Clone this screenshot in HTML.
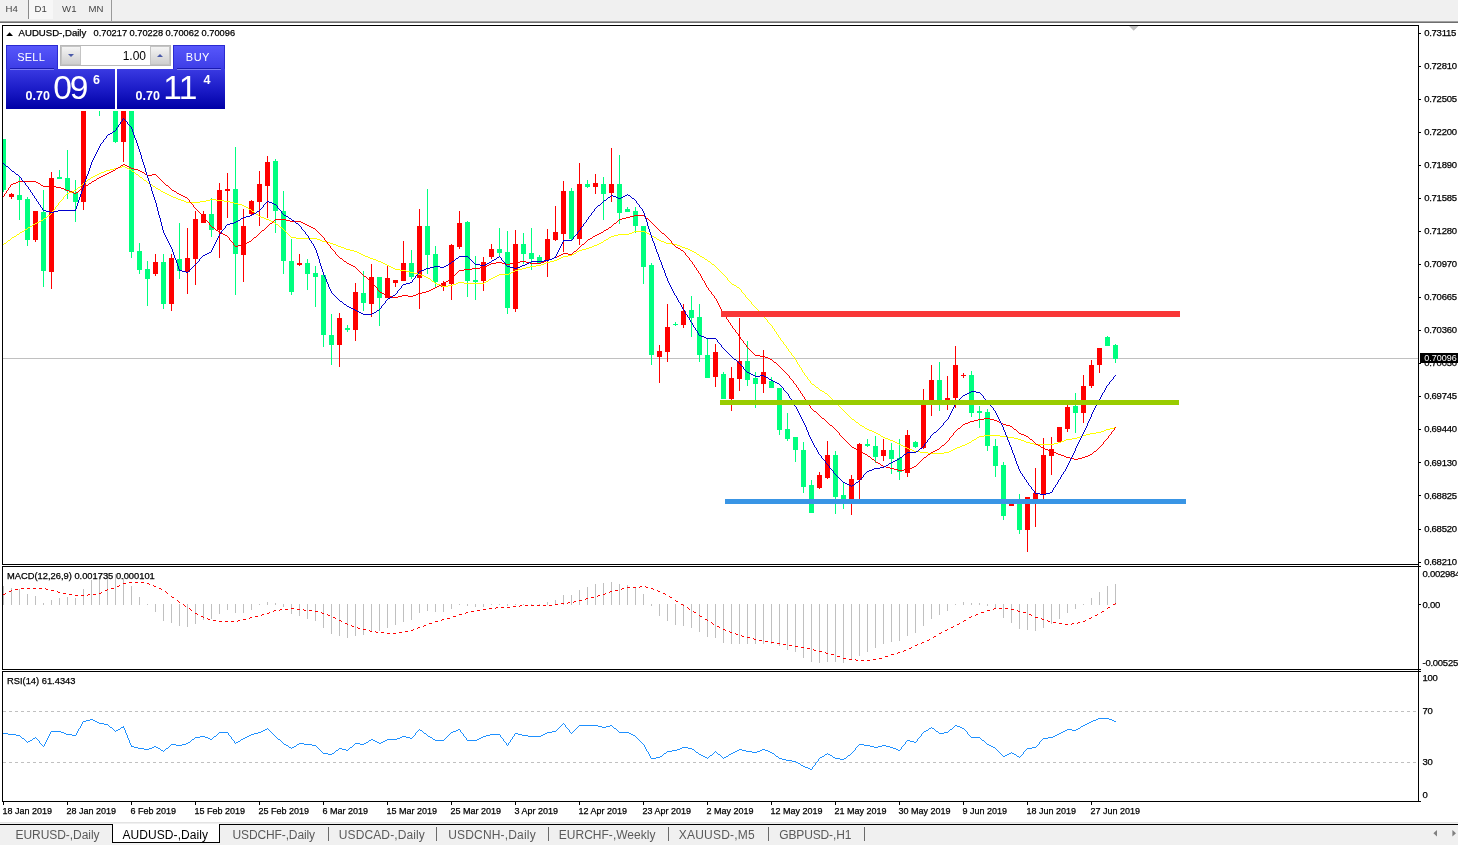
<!DOCTYPE html>
<html><head><meta charset="utf-8"><title>AUDUSD-,Daily</title>
<style>
html,body{margin:0;padding:0}
body{width:1458px;height:845px;overflow:hidden;background:#f0f0f0;position:relative;font-family:"Liberation Sans",sans-serif;}
#win{position:absolute;left:0px;top:23px;width:1458px;height:799px;background:#fff}
svg{position:absolute;left:0;top:0}
.tbtn{position:absolute;top:3.3px;font-size:9.6px;color:#444;line-height:11px}
.ax,.ax2{position:absolute;font-size:9.5px;letter-spacing:-0.26px;line-height:12px;color:#000;white-space:nowrap}
.ax,.ax2,.dt,.ind,#hdr{-webkit-text-stroke:0.25px #000}
.ax{left:1424.2px}
.ax2{left:1422.5px}
.dt{position:absolute;top:805px;font-size:9px;line-height:12px;color:#000;white-space:nowrap}
.tab{position:absolute;top:828px;font-size:12px;line-height:14px;color:#5a5a5a;white-space:nowrap}
.tab.act{color:#000}
.sep{position:absolute;top:827px;width:1px;height:14px;background:#6a6a6a}
#hdr{position:absolute;left:18.6px;top:27.2px;font-size:9.6px;line-height:12px;color:#000;white-space:pre}
#plab{position:absolute;left:1420px;top:353px;width:38px;height:10px;background:#000}
#plab span{position:absolute;left:4.2px;top:-1px;font-size:9px;line-height:12px;color:#fff}
.ind{position:absolute;left:7px;font-size:9.34px;line-height:12px;color:#000;white-space:pre}
#oct{position:absolute;left:6px;top:45px;width:219px;height:64px}
#oct div{position:absolute}
.big{color:#fff;white-space:nowrap}
</style></head><body>
<div id="win"></div>
<div style="position:absolute;left:0;top:21px;width:1458px;height:1px;background:#a0a0a0"></div>
<div style="position:absolute;left:0;top:22px;width:1458px;height:1px;background:#6e6e6e"></div>
<div style="position:absolute;left:28px;top:0;width:1px;height:19px;background:#8a8a8a"></div>
<div style="position:absolute;left:29px;top:0;width:24px;height:19px;background:#f7f7f7"></div>
<div style="position:absolute;left:111px;top:0;width:1px;height:21px;background:#9a9a9a"></div>
<div class="tbtn" style="left:5.6px">H4</div>
<div class="tbtn" style="left:34.6px">D1</div>
<div class="tbtn" style="left:62.1px">W1</div>
<div class="tbtn" style="left:88.5px">MN</div>

<svg width="1458" height="845" viewBox="0 0 1458 845" shape-rendering="crispEdges">
<defs><clipPath id="cm"><rect x="3" y="26" width="1415" height="538"/></clipPath></defs>
<g clip-path="url(#cm)">
<rect x="3" y="358" width="1415" height="1" fill="#c0c0c0"/>
<rect x="3" y="139" width="1" height="53" fill="#00ff7f"/><rect x="1" y="139" width="5" height="51" fill="#00ff7f"/><rect x="11" y="193" width="1" height="6" fill="#ff0000"/><rect x="9" y="194" width="5" height="3" fill="#ff0000"/><rect x="19" y="176" width="1" height="44" fill="#00ff7f"/><rect x="17" y="195" width="5" height="5" fill="#00ff7f"/><rect x="27" y="197" width="1" height="49" fill="#00ff7f"/><rect x="25" y="199" width="5" height="41" fill="#00ff7f"/><rect x="35" y="211" width="1" height="31" fill="#ff0000"/><rect x="33" y="211" width="5" height="29" fill="#ff0000"/><rect x="43" y="190" width="1" height="97" fill="#00ff7f"/><rect x="41" y="212" width="5" height="59" fill="#00ff7f"/><rect x="51" y="172" width="1" height="117" fill="#ff0000"/><rect x="49" y="178" width="5" height="94" fill="#ff0000"/><rect x="59" y="170" width="1" height="9" fill="#00ff7f"/><rect x="57" y="177" width="5" height="2" fill="#00ff7f"/><rect x="67" y="150" width="1" height="49" fill="#00ff7f"/><rect x="65" y="178" width="5" height="13" fill="#00ff7f"/><rect x="75" y="180" width="1" height="42" fill="#00ff7f"/><rect x="73" y="193" width="5" height="9" fill="#00ff7f"/><rect x="83" y="75" width="1" height="135" fill="#ff0000"/><rect x="81" y="80" width="5" height="122" fill="#ff0000"/><rect x="99" y="80" width="1" height="36" fill="#00ff7f"/><rect x="97" y="85" width="5" height="20" fill="#00ff7f"/><rect x="115" y="85" width="1" height="58" fill="#00ff7f"/><rect x="113" y="90" width="5" height="52" fill="#00ff7f"/><rect x="123" y="90" width="1" height="72" fill="#ff0000"/><rect x="121" y="95" width="5" height="47" fill="#ff0000"/><rect x="131" y="95" width="1" height="163" fill="#00ff7f"/><rect x="129" y="100" width="5" height="152" fill="#00ff7f"/><rect x="139" y="243" width="1" height="31" fill="#00ff7f"/><rect x="137" y="251" width="5" height="19" fill="#00ff7f"/><rect x="147" y="261" width="1" height="45" fill="#00ff7f"/><rect x="145" y="269" width="5" height="10" fill="#00ff7f"/><rect x="155" y="254" width="1" height="22" fill="#ff0000"/><rect x="153" y="262" width="5" height="12" fill="#ff0000"/><rect x="163" y="254" width="1" height="55" fill="#00ff7f"/><rect x="161" y="262" width="5" height="42" fill="#00ff7f"/><rect x="171" y="254" width="1" height="57" fill="#ff0000"/><rect x="169" y="258" width="5" height="46" fill="#ff0000"/><rect x="179" y="223" width="1" height="56" fill="#00ff7f"/><rect x="177" y="259" width="5" height="12" fill="#00ff7f"/><rect x="187" y="228" width="1" height="66" fill="#ff0000"/><rect x="185" y="258" width="5" height="14" fill="#ff0000"/><rect x="195" y="211" width="1" height="74" fill="#ff0000"/><rect x="193" y="219" width="5" height="40" fill="#ff0000"/><rect x="203" y="211" width="1" height="12" fill="#ff0000"/><rect x="201" y="214" width="5" height="9" fill="#ff0000"/><rect x="211" y="198" width="1" height="39" fill="#00ff7f"/><rect x="209" y="214" width="5" height="16" fill="#00ff7f"/><rect x="219" y="183" width="1" height="75" fill="#ff0000"/><rect x="217" y="190" width="5" height="40" fill="#ff0000"/><rect x="227" y="173" width="1" height="45" fill="#ff0000"/><rect x="225" y="189" width="5" height="2" fill="#ff0000"/><rect x="235" y="147" width="1" height="148" fill="#00ff7f"/><rect x="233" y="189" width="5" height="65" fill="#00ff7f"/><rect x="243" y="209" width="1" height="73" fill="#ff0000"/><rect x="241" y="226" width="5" height="29" fill="#ff0000"/><rect x="251" y="200" width="1" height="15" fill="#ff0000"/><rect x="249" y="201" width="5" height="13" fill="#ff0000"/><rect x="259" y="171" width="1" height="55" fill="#ff0000"/><rect x="257" y="184" width="5" height="18" fill="#ff0000"/><rect x="267" y="156" width="1" height="62" fill="#ff0000"/><rect x="265" y="162" width="5" height="24" fill="#ff0000"/><rect x="275" y="159" width="1" height="74" fill="#00ff7f"/><rect x="273" y="161" width="5" height="50" fill="#00ff7f"/><rect x="283" y="191" width="1" height="83" fill="#00ff7f"/><rect x="281" y="211" width="5" height="50" fill="#00ff7f"/><rect x="291" y="239" width="1" height="56" fill="#00ff7f"/><rect x="289" y="261" width="5" height="31" fill="#00ff7f"/><rect x="299" y="254" width="1" height="12" fill="#ff0000"/><rect x="297" y="263" width="5" height="2" fill="#ff0000"/><rect x="307" y="259" width="1" height="31" fill="#00ff7f"/><rect x="305" y="263" width="5" height="11" fill="#00ff7f"/><rect x="315" y="266" width="1" height="41" fill="#00ff7f"/><rect x="313" y="273" width="5" height="4" fill="#00ff7f"/><rect x="323" y="275" width="1" height="72" fill="#00ff7f"/><rect x="321" y="275" width="5" height="60" fill="#00ff7f"/><rect x="331" y="314" width="1" height="51" fill="#00ff7f"/><rect x="329" y="335" width="5" height="10" fill="#00ff7f"/><rect x="339" y="313" width="1" height="54" fill="#ff0000"/><rect x="337" y="318" width="5" height="27" fill="#ff0000"/><rect x="347" y="325" width="1" height="7" fill="#00ff7f"/><rect x="345" y="328" width="5" height="2" fill="#00ff7f"/><rect x="355" y="283" width="1" height="58" fill="#ff0000"/><rect x="353" y="292" width="5" height="38" fill="#ff0000"/><rect x="363" y="271" width="1" height="40" fill="#00ff7f"/><rect x="361" y="293" width="5" height="10" fill="#00ff7f"/><rect x="371" y="264" width="1" height="53" fill="#ff0000"/><rect x="369" y="277" width="5" height="27" fill="#ff0000"/><rect x="379" y="277" width="1" height="49" fill="#00ff7f"/><rect x="377" y="277" width="5" height="21" fill="#00ff7f"/><rect x="387" y="266" width="1" height="32" fill="#ff0000"/><rect x="385" y="278" width="5" height="20" fill="#ff0000"/><rect x="395" y="280" width="1" height="7" fill="#ff0000"/><rect x="393" y="280" width="5" height="3" fill="#ff0000"/><rect x="403" y="241" width="1" height="40" fill="#ff0000"/><rect x="401" y="263" width="5" height="18" fill="#ff0000"/><rect x="411" y="250" width="1" height="29" fill="#00ff7f"/><rect x="409" y="263" width="5" height="14" fill="#00ff7f"/><rect x="419" y="209" width="1" height="100" fill="#ff0000"/><rect x="417" y="226" width="5" height="52" fill="#ff0000"/><rect x="427" y="189" width="1" height="85" fill="#00ff7f"/><rect x="425" y="226" width="5" height="29" fill="#00ff7f"/><rect x="435" y="246" width="1" height="41" fill="#00ff7f"/><rect x="433" y="254" width="5" height="28" fill="#00ff7f"/><rect x="443" y="281" width="1" height="10" fill="#ff0000"/><rect x="441" y="283" width="5" height="4" fill="#ff0000"/><rect x="451" y="244" width="1" height="56" fill="#ff0000"/><rect x="449" y="245" width="5" height="39" fill="#ff0000"/><rect x="459" y="211" width="1" height="38" fill="#ff0000"/><rect x="457" y="223" width="5" height="24" fill="#ff0000"/><rect x="467" y="221" width="1" height="76" fill="#00ff7f"/><rect x="465" y="222" width="5" height="59" fill="#00ff7f"/><rect x="475" y="256" width="1" height="44" fill="#00ff7f"/><rect x="473" y="280" width="5" height="2" fill="#00ff7f"/><rect x="483" y="257" width="1" height="34" fill="#ff0000"/><rect x="481" y="262" width="5" height="19" fill="#ff0000"/><rect x="491" y="244" width="1" height="15" fill="#ff0000"/><rect x="489" y="249" width="5" height="8" fill="#ff0000"/><rect x="499" y="228" width="1" height="29" fill="#00ff7f"/><rect x="497" y="249" width="5" height="4" fill="#00ff7f"/><rect x="507" y="231" width="1" height="83" fill="#00ff7f"/><rect x="505" y="252" width="5" height="56" fill="#00ff7f"/><rect x="515" y="230" width="1" height="82" fill="#ff0000"/><rect x="513" y="244" width="5" height="65" fill="#ff0000"/><rect x="523" y="233" width="1" height="31" fill="#00ff7f"/><rect x="521" y="244" width="5" height="10" fill="#00ff7f"/><rect x="531" y="228" width="1" height="42" fill="#00ff7f"/><rect x="529" y="253" width="5" height="6" fill="#00ff7f"/><rect x="539" y="255" width="1" height="9" fill="#00ff7f"/><rect x="537" y="257" width="5" height="6" fill="#00ff7f"/><rect x="547" y="229" width="1" height="48" fill="#ff0000"/><rect x="545" y="239" width="5" height="21" fill="#ff0000"/><rect x="555" y="206" width="1" height="35" fill="#ff0000"/><rect x="553" y="232" width="5" height="8" fill="#ff0000"/><rect x="563" y="181" width="1" height="71" fill="#ff0000"/><rect x="561" y="191" width="5" height="43" fill="#ff0000"/><rect x="571" y="188" width="1" height="53" fill="#00ff7f"/><rect x="569" y="191" width="5" height="48" fill="#00ff7f"/><rect x="579" y="163" width="1" height="82" fill="#ff0000"/><rect x="577" y="184" width="5" height="55" fill="#ff0000"/><rect x="587" y="180" width="1" height="8" fill="#00ff7f"/><rect x="585" y="184" width="5" height="3" fill="#00ff7f"/><rect x="595" y="174" width="1" height="20" fill="#ff0000"/><rect x="593" y="183" width="5" height="4" fill="#ff0000"/><rect x="603" y="177" width="1" height="43" fill="#00ff7f"/><rect x="601" y="184" width="5" height="10" fill="#00ff7f"/><rect x="611" y="148" width="1" height="54" fill="#ff0000"/><rect x="609" y="184" width="5" height="9" fill="#ff0000"/><rect x="619" y="155" width="1" height="69" fill="#00ff7f"/><rect x="617" y="184" width="5" height="29" fill="#00ff7f"/><rect x="627" y="207" width="1" height="5" fill="#00ff7f"/><rect x="625" y="209" width="5" height="3" fill="#00ff7f"/><rect x="635" y="207" width="1" height="26" fill="#00ff7f"/><rect x="633" y="211" width="5" height="15" fill="#00ff7f"/><rect x="643" y="226" width="1" height="58" fill="#00ff7f"/><rect x="641" y="226" width="5" height="41" fill="#00ff7f"/><rect x="651" y="263" width="1" height="102" fill="#00ff7f"/><rect x="649" y="265" width="5" height="90" fill="#00ff7f"/><rect x="659" y="345" width="1" height="38" fill="#ff0000"/><rect x="657" y="351" width="5" height="6" fill="#ff0000"/><rect x="667" y="304" width="1" height="58" fill="#ff0000"/><rect x="665" y="327" width="5" height="25" fill="#ff0000"/><rect x="675" y="322" width="1" height="4" fill="#00ff7f"/><rect x="673" y="324" width="5" height="1" fill="#00ff7f"/><rect x="683" y="304" width="1" height="24" fill="#ff0000"/><rect x="681" y="311" width="5" height="14" fill="#ff0000"/><rect x="691" y="296" width="1" height="41" fill="#00ff7f"/><rect x="689" y="310" width="5" height="8" fill="#00ff7f"/><rect x="699" y="304" width="1" height="58" fill="#00ff7f"/><rect x="697" y="317" width="5" height="38" fill="#00ff7f"/><rect x="707" y="338" width="1" height="40" fill="#00ff7f"/><rect x="705" y="355" width="5" height="23" fill="#00ff7f"/><rect x="715" y="344" width="1" height="43" fill="#ff0000"/><rect x="713" y="352" width="5" height="25" fill="#ff0000"/><rect x="723" y="372" width="1" height="27" fill="#00ff7f"/><rect x="721" y="374" width="5" height="25" fill="#00ff7f"/><rect x="731" y="367" width="1" height="44" fill="#ff0000"/><rect x="729" y="378" width="5" height="21" fill="#ff0000"/><rect x="739" y="318" width="1" height="73" fill="#ff0000"/><rect x="737" y="361" width="5" height="18" fill="#ff0000"/><rect x="747" y="341" width="1" height="45" fill="#00ff7f"/><rect x="745" y="361" width="5" height="19" fill="#00ff7f"/><rect x="755" y="372" width="1" height="36" fill="#00ff7f"/><rect x="753" y="378" width="5" height="6" fill="#00ff7f"/><rect x="763" y="350" width="1" height="43" fill="#ff0000"/><rect x="761" y="372" width="5" height="12" fill="#ff0000"/><rect x="771" y="377" width="1" height="11" fill="#00ff7f"/><rect x="769" y="381" width="5" height="7" fill="#00ff7f"/><rect x="779" y="388" width="1" height="47" fill="#00ff7f"/><rect x="777" y="388" width="5" height="42" fill="#00ff7f"/><rect x="787" y="413" width="1" height="28" fill="#00ff7f"/><rect x="785" y="429" width="5" height="10" fill="#00ff7f"/><rect x="795" y="437" width="1" height="25" fill="#00ff7f"/><rect x="793" y="437" width="5" height="13" fill="#00ff7f"/><rect x="803" y="442" width="1" height="51" fill="#00ff7f"/><rect x="801" y="450" width="5" height="37" fill="#00ff7f"/><rect x="811" y="480" width="1" height="33" fill="#00ff7f"/><rect x="809" y="485" width="5" height="28" fill="#00ff7f"/><rect x="819" y="472" width="1" height="17" fill="#ff0000"/><rect x="817" y="475" width="5" height="13" fill="#ff0000"/><rect x="827" y="441" width="1" height="38" fill="#ff0000"/><rect x="825" y="455" width="5" height="23" fill="#ff0000"/><rect x="835" y="451" width="1" height="63" fill="#00ff7f"/><rect x="833" y="455" width="5" height="42" fill="#00ff7f"/><rect x="843" y="483" width="1" height="26" fill="#00ff7f"/><rect x="841" y="495" width="5" height="4" fill="#00ff7f"/><rect x="851" y="475" width="1" height="40" fill="#ff0000"/><rect x="849" y="479" width="5" height="20" fill="#ff0000"/><rect x="859" y="443" width="1" height="56" fill="#ff0000"/><rect x="857" y="444" width="5" height="36" fill="#ff0000"/><rect x="867" y="439" width="1" height="8" fill="#00ff7f"/><rect x="865" y="444" width="5" height="2" fill="#00ff7f"/><rect x="875" y="436" width="1" height="27" fill="#00ff7f"/><rect x="873" y="446" width="5" height="11" fill="#00ff7f"/><rect x="883" y="439" width="1" height="22" fill="#ff0000"/><rect x="881" y="450" width="5" height="6" fill="#ff0000"/><rect x="891" y="443" width="1" height="31" fill="#00ff7f"/><rect x="889" y="450" width="5" height="9" fill="#00ff7f"/><rect x="899" y="439" width="1" height="41" fill="#00ff7f"/><rect x="897" y="458" width="5" height="14" fill="#00ff7f"/><rect x="907" y="430" width="1" height="47" fill="#ff0000"/><rect x="905" y="435" width="5" height="38" fill="#ff0000"/><rect x="915" y="441" width="1" height="7" fill="#00ff7f"/><rect x="913" y="442" width="5" height="5" fill="#00ff7f"/><rect x="923" y="389" width="1" height="60" fill="#ff0000"/><rect x="921" y="405" width="5" height="43" fill="#ff0000"/><rect x="931" y="365" width="1" height="51" fill="#ff0000"/><rect x="929" y="380" width="5" height="20" fill="#ff0000"/><rect x="939" y="362" width="1" height="49" fill="#00ff7f"/><rect x="937" y="380" width="5" height="20" fill="#00ff7f"/><rect x="947" y="376" width="1" height="34" fill="#ff0000"/><rect x="945" y="398" width="5" height="2" fill="#ff0000"/><rect x="955" y="346" width="1" height="62" fill="#ff0000"/><rect x="953" y="365" width="5" height="33" fill="#ff0000"/><rect x="963" y="373" width="1" height="5" fill="#ff0000"/><rect x="961" y="375" width="5" height="1" fill="#ff0000"/><rect x="971" y="371" width="1" height="46" fill="#00ff7f"/><rect x="969" y="375" width="5" height="38" fill="#00ff7f"/><rect x="979" y="406" width="1" height="22" fill="#00ff7f"/><rect x="977" y="411" width="5" height="2" fill="#00ff7f"/><rect x="987" y="409" width="1" height="42" fill="#00ff7f"/><rect x="985" y="412" width="5" height="34" fill="#00ff7f"/><rect x="995" y="439" width="1" height="38" fill="#00ff7f"/><rect x="993" y="446" width="5" height="20" fill="#00ff7f"/><rect x="1003" y="462" width="1" height="58" fill="#00ff7f"/><rect x="1001" y="465" width="5" height="51" fill="#00ff7f"/><rect x="1011" y="504" width="1" height="2" fill="#ff0000"/><rect x="1009" y="504" width="5" height="2" fill="#ff0000"/><rect x="1019" y="494" width="1" height="40" fill="#00ff7f"/><rect x="1017" y="500" width="5" height="30" fill="#00ff7f"/><rect x="1027" y="497" width="1" height="55" fill="#ff0000"/><rect x="1025" y="497" width="5" height="33" fill="#ff0000"/><rect x="1035" y="468" width="1" height="59" fill="#ff0000"/><rect x="1033" y="493" width="5" height="6" fill="#ff0000"/><rect x="1043" y="438" width="1" height="61" fill="#ff0000"/><rect x="1041" y="455" width="5" height="40" fill="#ff0000"/><rect x="1051" y="437" width="1" height="38" fill="#ff0000"/><rect x="1049" y="449" width="5" height="7" fill="#ff0000"/><rect x="1059" y="427" width="1" height="15" fill="#ff0000"/><rect x="1057" y="427" width="5" height="15" fill="#ff0000"/><rect x="1067" y="405" width="1" height="27" fill="#ff0000"/><rect x="1065" y="407" width="5" height="22" fill="#ff0000"/><rect x="1075" y="393" width="1" height="40" fill="#00ff7f"/><rect x="1073" y="406" width="5" height="7" fill="#00ff7f"/><rect x="1083" y="375" width="1" height="48" fill="#ff0000"/><rect x="1081" y="386" width="5" height="27" fill="#ff0000"/><rect x="1091" y="360" width="1" height="28" fill="#ff0000"/><rect x="1089" y="365" width="5" height="21" fill="#ff0000"/><rect x="1099" y="348" width="1" height="25" fill="#ff0000"/><rect x="1097" y="348" width="5" height="17" fill="#ff0000"/><rect x="1107" y="336" width="1" height="10" fill="#00ff7f"/><rect x="1105" y="337" width="5" height="9" fill="#00ff7f"/><rect x="1115" y="344" width="1" height="19" fill="#00ff7f"/><rect x="1113" y="345" width="5" height="14" fill="#00ff7f"/>
<path d="M122 166.5h3M118 167.5h4M125 167.5h2M114 168.5h4M127 168.5h2M110 169.5h4M129 169.5h2M106 170.5h4M131 170.5h1M104 171.5h2M132 171.5h2M101 172.5h3M134 172.5h1M99 173.5h2M135 173.5h1M97 174.5h2M136 174.5h2M95 175.5h2M138 175.5h1M93 176.5h2M139 176.5h1M91 177.5h2M140 177.5h2M90 178.5h1M142 178.5h1M88 179.5h2M143 179.5h1M87 180.5h1M144 180.5h2M86 181.5h1M146 181.5h1M84 182.5h2M147 182.5h1M83 183.5h1M148 183.5h2M82 184.5h1M150 184.5h2M81 185.5h1M152 185.5h1M80 186.5h1M153 186.5h2M78 187.5h2M155 187.5h1M77 188.5h1M156 188.5h2M76 189.5h1M158 189.5h2M74 190.5h2M160 190.5h1M72 191.5h2M161 191.5h2M69 192.5h3M163 192.5h2M67 193.5h2M165 193.5h2M66 194.5h1M167 194.5h2M65 195.5h1M169 195.5h2M64 196.5h1M171 196.5h2M63.5 197v2M173 197.5h3M176 198.5h2M62 199.5h1M178 199.5h3M210 199.5h6M61 200.5h1M181 200.5h3M206 200.5h4M216 200.5h8M60 201.5h1M184 201.5h2M200 201.5h6M224 201.5h6M59 202.5h1M186 202.5h14M230 202.5h4M58.5 203v2M234 203.5h4M238 204.5h4M57 205.5h1M242 205.5h2M56 206.5h1M244 206.5h2M55.5 207v2M246 207.5h2M248 208.5h1M54 209.5h1M249 209.5h2M53 210.5h1M251 210.5h1M52.5 211v2M252 211.5h2M254 212.5h1M51 213.5h1M255 213.5h1M50 214.5h1M256 214.5h2M48 215.5h2M258 215.5h1M47 216.5h1M259 216.5h2M46 217.5h1M261 217.5h3M44 218.5h2M264 218.5h2M43 219.5h1M266 219.5h3M41 220.5h2M269 220.5h2M39 221.5h2M271 221.5h2M37 222.5h2M273 222.5h2M35 223.5h2M275 223.5h1M33 224.5h2M276 224.5h2M32 225.5h1M278 225.5h1M30 226.5h2M279 226.5h1M28 227.5h2M280 227.5h2M27 228.5h1M282 228.5h1M25 229.5h2M283 229.5h1M24 230.5h1M284 230.5h1M22 231.5h2M285 231.5h1M634 231.5h11M20 232.5h2M286 232.5h1M632 232.5h2M645 232.5h2M19 233.5h1M287 233.5h1M629 233.5h3M647 233.5h2M17 234.5h2M288 234.5h1M618 234.5h11M649 234.5h2M16 235.5h1M289 235.5h1M614 235.5h4M651 235.5h1M14 236.5h2M290 236.5h1M611 236.5h3M652 236.5h2M12 237.5h2M291 237.5h5M609 237.5h2M654 237.5h2M11 238.5h1M296 238.5h21M608 238.5h1M656 238.5h1M10 239.5h1M317 239.5h3M606 239.5h2M657 239.5h2M8 240.5h2M320 240.5h2M604 240.5h2M659 240.5h2M7 241.5h1M322 241.5h4M603 241.5h1M661 241.5h3M6 242.5h1M326 242.5h4M601 242.5h2M664 242.5h2M4 243.5h2M330 243.5h3M599 243.5h2M666 243.5h6M3 244.5h1M333 244.5h3M597 244.5h2M672 244.5h5M336 245.5h2M594 245.5h3M677 245.5h3M338 246.5h3M592 246.5h2M680 246.5h2M341 247.5h3M589 247.5h3M682 247.5h3M344 248.5h2M586 248.5h3M685 248.5h3M346 249.5h4M582 249.5h4M688 249.5h2M350 250.5h4M579 250.5h3M690 250.5h2M354 251.5h3M577 251.5h2M692 251.5h2M357 252.5h2M576 252.5h1M694 252.5h2M359 253.5h2M574 253.5h2M696 253.5h1M361 254.5h2M572 254.5h2M697 254.5h2M363 255.5h2M568 255.5h4M699 255.5h1M365 256.5h3M563 256.5h5M700 256.5h2M368 257.5h2M561 257.5h2M702 257.5h2M370 258.5h3M559 258.5h2M704 258.5h1M373 259.5h3M557 259.5h2M705 259.5h2M376 260.5h2M554 260.5h3M707 260.5h1M378 261.5h3M550 261.5h4M708 261.5h2M381 262.5h2M546 262.5h4M710 262.5h1M383 263.5h2M544 263.5h2M711 263.5h1M385 264.5h2M541 264.5h3M712 264.5h2M387 265.5h2M536 265.5h5M714 265.5h1M389 266.5h2M530 266.5h6M715 266.5h1M391 267.5h2M526 267.5h4M716 267.5h1M393 268.5h2M522 268.5h4M717 268.5h1M395 269.5h5M518 269.5h4M718 269.5h1M400 270.5h6M515 270.5h3M719 270.5h1M406 271.5h4M513 271.5h2M720 271.5h1M410 272.5h4M511 272.5h2M721 272.5h1M414 273.5h4M509 273.5h2M722 273.5h1M418 274.5h3M499 274.5h10M723 274.5h1M421 275.5h3M497 275.5h2M724 275.5h1M424 276.5h2M495 276.5h2M725 276.5h1M426 277.5h2M493 277.5h2M726 277.5h1M428 278.5h2M491 278.5h2M727.5 278v2M430 279.5h1M489 279.5h2M431 280.5h1M488 280.5h1M728 280.5h1M432 281.5h2M486 281.5h2M729 281.5h1M434 282.5h1M458 282.5h6M484 282.5h2M730 282.5h1M435 283.5h2M456 283.5h2M464 283.5h20M731 283.5h1M437 284.5h3M453 284.5h3M732 284.5h2M440 285.5h2M448 285.5h5M734 285.5h2M442 286.5h6M736 286.5h1M737 287.5h2M739 288.5h1M740 289.5h1M741.5 290v2M742 292.5h1M743 293.5h1M744 294.5h1M745.5 295v2M746 297.5h1M747 298.5h1M748 299.5h1M749 300.5h1M750 301.5h1M751.5 302v2M752 304.5h1M753 305.5h1M754 306.5h1M755 307.5h1M756 308.5h1M757 309.5h1M758 310.5h1M759.5 311v2M760 313.5h1M761 314.5h1M762 315.5h1M763 316.5h1M764 317.5h1M765 318.5h1M766 319.5h1M767.5 320v2M768 322.5h1M769 323.5h1M770 324.5h1M771 325.5h1M772.5 326v2M773 328.5h1M774.5 329v2M775 331.5h1M776.5 332v2M777 334.5h1M778.5 335v2M779 337.5h1M780.5 338v2M781 340.5h1M782 341.5h1M783.5 342v2M784 344.5h1M785 345.5h1M786.5 346v2M787 348.5h1M788.5 349v2M789 351.5h1M790 352.5h1M791.5 353v2M792 355.5h1M793 356.5h1M794.5 357v2M795 359.5h1M796.5 360v2M797.5 362v2M798 364.5h1M799.5 365v2M800 367.5h1M801.5 368v2M802.5 370v2M803 372.5h1M804.5 373v2M805 375.5h1M806 376.5h1M807.5 377v2M808 379.5h1M809 380.5h1M810.5 381v2M811 383.5h1M812 384.5h2M814 385.5h1M815 386.5h1M816 387.5h2M818 388.5h1M819 389.5h1M820 390.5h2M822 391.5h2M824 392.5h1M825 393.5h2M827 394.5h1M828 395.5h1M829 396.5h1M830 397.5h1M831 398.5h1M832 399.5h1M833 400.5h1M834 401.5h1M835 402.5h1M836 403.5h1M837 404.5h1M838 405.5h1M839 406.5h1M840 407.5h1M841 408.5h1M842 409.5h1M843 410.5h1M844 411.5h1M845 412.5h1M846 413.5h1M847 414.5h1M848 415.5h1M849 416.5h1M850 417.5h1M851 418.5h1M852 419.5h2M854 420.5h1M855 421.5h1M856 422.5h2M858 423.5h1M859 424.5h1M860 425.5h2M862 426.5h2M864 427.5h1M1114 427.5h2M865 428.5h2M1110 428.5h4M867 429.5h2M1106 429.5h4M869 430.5h3M1104 430.5h2M872 431.5h2M1101 431.5h3M874 432.5h2M1096 432.5h5M876 433.5h2M1090 433.5h6M878 434.5h2M1086 434.5h4M880 435.5h1M984 435.5h16M1082 435.5h4M881 436.5h2M979 436.5h5M1000 436.5h8M1080 436.5h2M883 437.5h2M977 437.5h2M1008 437.5h6M1077 437.5h3M885 438.5h3M976 438.5h1M1014 438.5h4M1072 438.5h5M888 439.5h2M974 439.5h2M1018 439.5h3M1066 439.5h6M890 440.5h3M972 440.5h2M1021 440.5h3M1064 440.5h2M893 441.5h2M971 441.5h1M1024 441.5h2M1061 441.5h3M895 442.5h2M969 442.5h2M1026 442.5h4M1058 442.5h3M897 443.5h2M967 443.5h2M1030 443.5h4M1054 443.5h4M899 444.5h2M965 444.5h2M1034 444.5h20M901 445.5h2M962 445.5h3M903 446.5h2M960 446.5h2M905 447.5h2M957 447.5h3M907 448.5h2M955 448.5h2M909 449.5h3M953 449.5h2M912 450.5h2M951 450.5h2M914 451.5h6M949 451.5h2M920 452.5h8M944 452.5h5M928 453.5h16" fill="none" stroke="#ffff00" stroke-width="1"/>
<path d="M123 164.5h2M121 165.5h2M125 165.5h2M120 166.5h1M127 166.5h2M118 167.5h2M129 167.5h2M116 168.5h2M131 168.5h3M115 169.5h1M134 169.5h4M113 170.5h2M138 170.5h2M111 171.5h2M140 171.5h2M109 172.5h2M142 172.5h2M107 173.5h2M144 173.5h1M105 174.5h2M145 174.5h2M152 174.5h4M103 175.5h2M147 175.5h5M156 175.5h1M101 176.5h2M157 176.5h1M99 177.5h2M158 177.5h1M97 178.5h2M159 178.5h1M96 179.5h1M160 179.5h1M94 180.5h2M161 180.5h1M18 181.5h18M92 181.5h2M162 181.5h1M16 182.5h2M36 182.5h2M91 182.5h1M163 182.5h1M13 183.5h3M38 183.5h2M89 183.5h2M164 183.5h1M11 184.5h2M40 184.5h1M88 184.5h1M165 184.5h1M10.5 185v2M41 185.5h2M86 185.5h2M166 185.5h2M43 186.5h13M84 186.5h2M168 186.5h1M9 187.5h1M56 187.5h5M83 187.5h1M169 187.5h1M8.5 188v2M61 188.5h3M82 188.5h1M170 188.5h1M64 189.5h2M80 189.5h2M171 189.5h1M7 190.5h1M66 190.5h3M79 190.5h1M172 190.5h2M6.5 191v2M69 191.5h3M78 191.5h1M174 191.5h2M72 192.5h2M76 192.5h2M176 192.5h1M5 193.5h1M74 193.5h2M177 193.5h2M4.5 194v2M179 194.5h2M181 195.5h2M3 196.5h1M183 196.5h2M185 197.5h2M187 198.5h1M188 199.5h1M189.5 200v2M190 202.5h1M191 203.5h1M192 204.5h1M193.5 205v2M194 207.5h1M195 208.5h1M196 209.5h1M197 210.5h1M198 211.5h1M199 212.5h1M200 213.5h1M201 214.5h1M202 215.5h1M634 215.5h10M203 216.5h1M630 216.5h4M644 216.5h1M204 217.5h1M626 217.5h4M645 217.5h1M205.5 218v2M622 218.5h4M646 218.5h2M275 219.5h11M619 219.5h3M648 219.5h1M206 220.5h1M274 220.5h1M286 220.5h4M618 220.5h1M649 220.5h1M207 221.5h1M273 221.5h1M290 221.5h11M617 221.5h1M650 221.5h1M208 222.5h1M272 222.5h1M301 222.5h2M616 222.5h1M651 222.5h1M209.5 223v2M270 223.5h2M303 223.5h2M614 223.5h2M652 223.5h1M269 224.5h1M305 224.5h2M613 224.5h1M653 224.5h1M210 225.5h1M268 225.5h1M307 225.5h2M612 225.5h1M654 225.5h1M211 226.5h1M267 226.5h1M309 226.5h2M611 226.5h1M655 226.5h1M212 227.5h2M266 227.5h1M311 227.5h2M609 227.5h2M656 227.5h1M214 228.5h1M265 228.5h1M313 228.5h2M608 228.5h1M657 228.5h1M215 229.5h1M264 229.5h1M315 229.5h1M606 229.5h2M658 229.5h1M216 230.5h2M262 230.5h2M316 230.5h1M604 230.5h2M659 230.5h1M218 231.5h1M261 231.5h1M317 231.5h1M603 231.5h1M660 231.5h1M219 232.5h2M260 232.5h1M318 232.5h1M601 232.5h2M661 232.5h1M221 233.5h2M259 233.5h1M319 233.5h1M599 233.5h2M662 233.5h2M223 234.5h2M258 234.5h1M320 234.5h1M597 234.5h2M664 234.5h1M225 235.5h2M257 235.5h1M321 235.5h1M595 235.5h2M665 235.5h1M227 236.5h1M256 236.5h1M322 236.5h1M593 236.5h2M666 236.5h1M228 237.5h1M254 237.5h2M323 237.5h1M592 237.5h1M667 237.5h1M229.5 238v2M253 238.5h1M324.5 238v2M590 238.5h2M668 238.5h1M252 239.5h1M588 239.5h2M669 239.5h1M230 240.5h1M251 240.5h1M325 240.5h1M587 240.5h1M670 240.5h1M231 241.5h1M249 241.5h2M326 241.5h1M586 241.5h1M671.5 241v2M232 242.5h1M247 242.5h2M327.5 242v2M585 242.5h1M233.5 243v2M245 243.5h2M584 243.5h1M672 243.5h1M242 244.5h3M328 244.5h1M582 244.5h2M673 244.5h1M234 245.5h1M238 245.5h4M329 245.5h1M581 245.5h1M674 245.5h1M235 246.5h3M330.5 246v2M580 246.5h1M675 246.5h1M579 247.5h1M676 247.5h2M331 248.5h1M578 248.5h1M678 248.5h2M332 249.5h1M577 249.5h1M680 249.5h1M333 250.5h1M576 250.5h1M681 250.5h2M334 251.5h1M574 251.5h2M683 251.5h1M335.5 252v2M573 252.5h1M684 252.5h1M563 253.5h5M572 253.5h1M685.5 253v2M336 254.5h1M561 254.5h2M568 254.5h4M337 255.5h1M559 255.5h2M686 255.5h1M338 256.5h1M557 256.5h2M687 256.5h1M339 257.5h1M554 257.5h3M688 257.5h1M340 258.5h2M552 258.5h2M689.5 258v2M342 259.5h1M549 259.5h3M343 260.5h1M546 260.5h3M690 260.5h1M344 261.5h2M520 261.5h6M544 261.5h2M691 261.5h1M346 262.5h1M496 262.5h6M514 262.5h6M526 262.5h4M541 262.5h3M692.5 262v2M347 263.5h2M491 263.5h5M502 263.5h4M510 263.5h4M530 263.5h11M349 264.5h2M489 264.5h2M506 264.5h4M693 264.5h1M351 265.5h2M487 265.5h2M694.5 265v2M353 266.5h2M485 266.5h2M355 267.5h1M480 267.5h5M695 267.5h1M356 268.5h1M472 268.5h8M696.5 268v2M357 269.5h1M464 269.5h8M358 270.5h1M459 270.5h5M697 270.5h1M359 271.5h1M458 271.5h1M698.5 271v2M360 272.5h1M457 272.5h1M361 273.5h1M456 273.5h1M699 273.5h1M362 274.5h1M455 274.5h1M700.5 274v2M363 275.5h1M454 275.5h1M364 276.5h2M453 276.5h1M701.5 276v2M366 277.5h1M452 277.5h1M367 278.5h1M451 278.5h1M702.5 278v2M368 279.5h2M449 279.5h2M370 280.5h1M448 280.5h1M703 280.5h1M371 281.5h1M446 281.5h2M704.5 281v2M372 282.5h1M444 282.5h2M373.5 283v2M443 283.5h1M705.5 283v2M441 284.5h2M374 285.5h1M439 285.5h2M706.5 285v2M375 286.5h1M437 286.5h2M376 287.5h1M435 287.5h2M707 287.5h1M377.5 288v2M433 288.5h2M708.5 288v2M431 289.5h2M378 290.5h1M429 290.5h2M709 290.5h1M379 291.5h1M426 291.5h3M710 291.5h1M380 292.5h2M422 292.5h4M711.5 292v2M382 293.5h2M418 293.5h4M384 294.5h1M416 294.5h2M712 294.5h1M385 295.5h2M402 295.5h6M413 295.5h3M713 295.5h1M387 296.5h5M398 296.5h4M408 296.5h5M714.5 296v2M392 297.5h6M715 298.5h1M716.5 299v2M717.5 301v2M718.5 303v2M719.5 305v2M720.5 307v2M721.5 309v2M722.5 311v2M723 313.5h1M724.5 314v2M725 316.5h1M726.5 317v2M727 319.5h1M728.5 320v2M729 322.5h1M730.5 323v2M731 325.5h1M732.5 326v2M733 328.5h1M734 329.5h1M735.5 330v2M736 332.5h1M737 333.5h1M738.5 334v2M739 336.5h1M740.5 337v2M741 339.5h1M742 340.5h1M743.5 341v2M744 343.5h1M745 344.5h1M746.5 345v2M747 347.5h1M748 348.5h1M749 349.5h1M750 350.5h1M751 351.5h1M752 352.5h1M753 353.5h1M754 354.5h1M755 355.5h5M760 356.5h5M765 357.5h3M768 358.5h2M770 359.5h2M772 360.5h1M773 361.5h1M774 362.5h2M776 363.5h1M777 364.5h1M778 365.5h1M779 366.5h1M780 367.5h1M781 368.5h1M782 369.5h1M783 370.5h1M784 371.5h1M785 372.5h1M786 373.5h1M787 374.5h1M788 375.5h1M789.5 376v2M790 378.5h1M791 379.5h1M792 380.5h1M793.5 381v2M794 383.5h1M795 384.5h1M796.5 385v2M797 387.5h1M798.5 388v2M799 390.5h1M800.5 391v2M801 393.5h1M802.5 394v2M803 396.5h1M804.5 397v2M805 399.5h1M806.5 400v2M807 402.5h1M808.5 403v2M809 405.5h1M810.5 406v2M811 408.5h1M812 409.5h1M813 410.5h1M814 411.5h2M816 412.5h1M817 413.5h1M818 414.5h1M819 415.5h1M820 416.5h1M821 417.5h1M822 418.5h2M984 418.5h6M824 419.5h1M978 419.5h6M990 419.5h4M825 420.5h1M974 420.5h4M994 420.5h3M826 421.5h1M970 421.5h4M997 421.5h2M827 422.5h1M968 422.5h2M999 422.5h2M828 423.5h1M965 423.5h3M1001 423.5h2M829 424.5h1M963 424.5h2M1003 424.5h3M830 425.5h2M962 425.5h1M1006 425.5h4M832 426.5h1M961 426.5h1M1010 426.5h2M833 427.5h1M960 427.5h1M1012 427.5h1M1115 427.5h1M834 428.5h1M958 428.5h2M1013 428.5h1M1114.5 428v2M835 429.5h1M957 429.5h1M1014 429.5h2M836 430.5h1M956 430.5h1M1016 430.5h1M1113 430.5h1M837 431.5h1M955 431.5h1M1017 431.5h1M1112 431.5h1M838 432.5h1M954 432.5h1M1018 432.5h1M1111.5 432v2M839.5 433v2M953.5 433v2M1019 433.5h2M1021 434.5h3M1110 434.5h1M840 435.5h1M952 435.5h1M1024 435.5h2M1109 435.5h1M841 436.5h1M951 436.5h1M1026 436.5h2M1108.5 436v2M842 437.5h1M950 437.5h1M1028 437.5h1M843 438.5h1M949.5 438v2M1029 438.5h1M1107 438.5h1M844 439.5h1M1030 439.5h2M1106 439.5h1M845 440.5h1M948 440.5h1M1032 440.5h1M1105 440.5h1M846 441.5h1M947 441.5h1M1033 441.5h1M1104 441.5h1M847 442.5h1M946 442.5h1M1034 442.5h1M1103.5 442v2M848 443.5h1M945 443.5h1M1035 443.5h1M849 444.5h1M944 444.5h1M1036 444.5h2M1102 444.5h1M850 445.5h1M942 445.5h2M1038 445.5h2M1101 445.5h1M851 446.5h1M941 446.5h1M1040 446.5h1M1100 446.5h1M852 447.5h2M940 447.5h1M1041 447.5h2M1099 447.5h1M854 448.5h2M939 448.5h1M1043 448.5h2M1098 448.5h1M856 449.5h1M937 449.5h2M1045 449.5h3M1097 449.5h1M857 450.5h2M935 450.5h2M1048 450.5h2M1096 450.5h1M859 451.5h2M933 451.5h2M1050 451.5h3M1094 451.5h2M861 452.5h2M931 452.5h2M1053 452.5h3M1093 452.5h1M863 453.5h2M930 453.5h1M1056 453.5h2M1092 453.5h1M865 454.5h2M928 454.5h2M1058 454.5h3M1090 454.5h2M867 455.5h1M927 455.5h1M1061 455.5h3M1088 455.5h2M868 456.5h2M926 456.5h1M1064 456.5h2M1085 456.5h3M870 457.5h1M924 457.5h2M1066 457.5h4M1082 457.5h3M871 458.5h1M923 458.5h1M1070 458.5h4M1078 458.5h4M872 459.5h2M922 459.5h1M1074 459.5h4M874 460.5h1M921 460.5h1M875 461.5h1M920 461.5h1M876 462.5h2M919 462.5h1M878 463.5h2M918 463.5h1M880 464.5h1M917 464.5h1M881 465.5h2M916 465.5h1M883 466.5h3M914 466.5h2M886 467.5h4M912 467.5h2M890 468.5h4M909 468.5h3M894 469.5h4M904 469.5h5M898 470.5h6" fill="none" stroke="#ff0000" stroke-width="1"/>
<path d="M123 118.5h1M122.5 119v2M124 119.5h1M125 120.5h1M121 121.5h1M126 121.5h1M120.5 122v2M127.5 122v2M119 124.5h1M128 124.5h1M118.5 125v2M129 125.5h1M130 126.5h1M117 127.5h1M131.5 127v2M116.5 128v2M132.5 129v3M115 130.5h1M113 131.5h2M112 132.5h1M133.5 132v3M110 133.5h2M108 134.5h2M107 135.5h1M134.5 135v3M106.5 136v2M105 138.5h1M135.5 138v2M104 139.5h1M103.5 140v2M136.5 140v3M102 142.5h1M101 143.5h1M137.5 143v3M100.5 144v2M99.5 146v2M138.5 146v3M98.5 148v2M139.5 149v3M97.5 150v2M96.5 152v2M140.5 152v3M95.5 154v2M141.5 155v4M94.5 156v2M93.5 158v2M142.5 159v3M92.5 160v2M91.5 162v3M143.5 162v3M3 163.5h1M4 164.5h1M5 165.5h1M90.5 165v3M144.5 165v3M6 166.5h2M8 167.5h1M9 168.5h1M89.5 168v3M145.5 168v4M10 169.5h1M11 170.5h1M12 171.5h2M88.5 171v3M14 172.5h1M146.5 172v3M15 173.5h1M16 174.5h2M87.5 174v2M18 175.5h1M147.5 175v3M19 176.5h1M86.5 176v3M20 177.5h1M21.5 178v2M148.5 178v3M85.5 179v3M22 180.5h1M23 181.5h1M149.5 181v3M24 182.5h1M84.5 182v3M25.5 183v2M150.5 184v3M26 185.5h1M83.5 185v3M27 186.5h1M28.5 187v2M151.5 187v4M82.5 188v3M29 189.5h1M30.5 190v2M81.5 191v3M152.5 191v3M31 192.5h1M32.5 193v2M80.5 194v3M153.5 194v3M627 194.5h1M33 195.5h1M611 195.5h2M625 195.5h2M628 195.5h2M34.5 196v2M610 196.5h1M613 196.5h3M623 196.5h2M630 196.5h1M79.5 197v3M154.5 197v3M608 197.5h2M616 197.5h2M621 197.5h2M631 197.5h1M35 198.5h1M607 198.5h1M618 198.5h3M632 198.5h2M36.5 199v2M606 199.5h1M634 199.5h1M78.5 200v3M155.5 200v3M604 200.5h2M635 200.5h1M37 201.5h1M267 201.5h2M603 201.5h1M636.5 201v2M38.5 202v2M266 202.5h1M269 202.5h3M602 202.5h1M77.5 203v3M156.5 203v4M265 203.5h1M272 203.5h2M601 203.5h1M637 203.5h1M39 204.5h1M264 204.5h1M274 204.5h2M600 204.5h1M638 204.5h1M40.5 205v2M263.5 205v2M276 205.5h1M598 205.5h2M639.5 205v2M76.5 206v3M277.5 206v2M597 206.5h1M41 207.5h1M157.5 207v4M262 207.5h1M596 207.5h1M640 207.5h1M42.5 208v2M261 208.5h1M278 208.5h1M595 208.5h1M641 208.5h1M75.5 209v2M260 209.5h1M279 209.5h1M594.5 209v2M642.5 209v2M43 210.5h3M58 210.5h17M259 210.5h1M280 210.5h1M46 211.5h4M54 211.5h4M158.5 211v4M257 211.5h2M281.5 211v2M593 211.5h1M643.5 211v2M50 212.5h4M256 212.5h1M592 212.5h1M254 213.5h2M282 213.5h1M591.5 213v2M644.5 213v3M252 214.5h2M283 214.5h1M159.5 215v3M250 215.5h2M284 215.5h2M590 215.5h1M246 216.5h4M286 216.5h2M589 216.5h1M645.5 216v3M243 217.5h3M288 217.5h1M588.5 217v2M160.5 218v4M241 218.5h2M289 218.5h2M240 219.5h1M291 219.5h1M587 219.5h1M646.5 219v3M238 220.5h2M292 220.5h2M586.5 220v2M236 221.5h2M294 221.5h1M161.5 222v4M234 222.5h2M295 222.5h1M585 222.5h1M647.5 222v4M230 223.5h4M296 223.5h2M584 223.5h1M227 224.5h3M298 224.5h1M583.5 224v2M226 225.5h1M299 225.5h1M162.5 226v4M225.5 226v2M300 226.5h1M582 226.5h1M648.5 226v3M301.5 227v2M581 227.5h1M224 228.5h1M580.5 228v2M223 229.5h1M302 229.5h1M649.5 229v3M163.5 230v3M222 230.5h1M303 230.5h1M579 230.5h1M221.5 231v2M304 231.5h1M578 231.5h1M305.5 232v2M577.5 232v2M650.5 232v3M164.5 233v2M220 233.5h1M219.5 234v2M306 234.5h1M576 234.5h1M165.5 235v2M307 235.5h1M575 235.5h1M651.5 235v3M218.5 236v2M308.5 236v2M574 236.5h1M166.5 237v2M573.5 237v2M217.5 238v2M309.5 238v2M652.5 238v3M167.5 239v2M572 239.5h1M216.5 240v2M310 240.5h1M563 240.5h9M168.5 241v2M311.5 241v2M563 241.5h1M653.5 241v2M215.5 242v2M562.5 242v2M169.5 243v2M312 243.5h1M654.5 243v3M214.5 244v2M313.5 244v2M561.5 244v2M170.5 245v2M213.5 246v2M314.5 246v2M560.5 246v2M655.5 246v3M171.5 247v2M212.5 248v2M315.5 248v2M559.5 248v2M172.5 249v3M656.5 249v3M211.5 250v2M316.5 250v3M558.5 250v2M173.5 252v3M209 252.5h2M557.5 252v2M657.5 252v2M207 253.5h2M317.5 253v3M205 254.5h2M556.5 254v2M658.5 254v3M174.5 255v3M203 255.5h2M202 256.5h1M318.5 256v3M459 256.5h9M499 256.5h1M555.5 256v2M201 257.5h1M458 257.5h1M468 257.5h1M497 257.5h2M500 257.5h1M554 257.5h1M659.5 257v3M175.5 258v2M200 258.5h1M456 258.5h2M469 258.5h1M496 258.5h1M501.5 258v2M552 258.5h2M199.5 259v2M319.5 259v4M455 259.5h1M470 259.5h1M494 259.5h2M549 259.5h3M176.5 260v3M454 260.5h1M471 260.5h1M492 260.5h2M502 260.5h1M544 260.5h5M660.5 260v2M198 261.5h1M452 261.5h2M472 261.5h1M491 261.5h1M503 261.5h1M531 261.5h13M197 262.5h1M451 262.5h1M473 262.5h1M489 262.5h2M504 262.5h1M529 262.5h2M661.5 262v3M177.5 263v3M196 263.5h1M320.5 263v3M449 263.5h2M474 263.5h1M487 263.5h2M505.5 263v2M527 263.5h2M195 264.5h1M448 264.5h1M475 264.5h5M485 264.5h2M525 264.5h2M194 265.5h1M446 265.5h2M480 265.5h5M506 265.5h1M522 265.5h3M662.5 265v3M178.5 266v3M193 266.5h1M321.5 266v3M434 266.5h6M444 266.5h2M507 266.5h3M520 266.5h2M192 267.5h1M430 267.5h4M440 267.5h4M510 267.5h4M517 267.5h3M191 268.5h1M426 268.5h4M514 268.5h3M663.5 268v2M179.5 269v2M190 269.5h1M322.5 269v3M424 269.5h2M180 270.5h2M189 270.5h1M421 270.5h3M664.5 270v3M182 271.5h4M188 271.5h1M419 271.5h2M186 272.5h2M323.5 272v3M418.5 272v2M665.5 273v3M417 274.5h1M324.5 275v2M416 275.5h1M415.5 276v2M666.5 276v2M325.5 277v2M414 278.5h1M667.5 278v3M326.5 279v3M413 279.5h1M412.5 280v2M668.5 281v2M327.5 282v2M410 282.5h2M406 283.5h4M669.5 283v2M328.5 284v3M403 284.5h3M402 285.5h1M670.5 285v2M401.5 286v2M329.5 287v2M671.5 287v2M400 288.5h1M330.5 289v2M399 289.5h1M672.5 289v2M398 290.5h1M331.5 291v2M397.5 291v2M673.5 291v2M332 293.5h1M396 293.5h1M674.5 293v2M333 294.5h1M395 294.5h1M334 295.5h1M393 295.5h2M675 295.5h1M335 296.5h1M392 296.5h1M676.5 296v2M336 297.5h1M390 297.5h2M337 298.5h1M388 298.5h2M677.5 298v2M338 299.5h1M387 299.5h1M339 300.5h1M386 300.5h1M678.5 300v2M340 301.5h2M385.5 301v2M342 302.5h1M679 302.5h1M343 303.5h1M384 303.5h1M680.5 303v2M344 304.5h2M383 304.5h1M346 305.5h1M382 305.5h1M681.5 305v2M347 306.5h2M381.5 306v2M349 307.5h2M682.5 307v2M351 308.5h2M380 308.5h1M353 309.5h2M379 309.5h1M683 309.5h1M355 310.5h2M377 310.5h2M684.5 310v2M357 311.5h2M376 311.5h1M359 312.5h2M374 312.5h2M685.5 312v2M361 313.5h2M372 313.5h2M363 314.5h9M686 314.5h1M687.5 315v2M688 317.5h1M689.5 318v2M690.5 320v2M691 322.5h1M692.5 323v2M693.5 325v2M694 327.5h1M695.5 328v2M696 330.5h1M697.5 331v2M698.5 333v2M699 335.5h2M701 336.5h3M704 337.5h2M706 338.5h10M716 339.5h1M717.5 340v2M718 342.5h1M719 343.5h1M720 344.5h1M721.5 345v2M722 347.5h1M723 348.5h1M724 349.5h1M725 350.5h1M726 351.5h1M727 352.5h1M728 353.5h1M729 354.5h1M730 355.5h1M731 356.5h1M732 357.5h1M733 358.5h1M734 359.5h2M736 360.5h1M737 361.5h1M738 362.5h1M739 363.5h1M740 364.5h1M741 365.5h1M742 366.5h1M743.5 367v2M744 369.5h1M745 370.5h1M746 371.5h1M747 372.5h2M749 373.5h2M751 374.5h2M753 375.5h2M760 375.5h4M1115 375.5h1M755 376.5h5M764 376.5h2M1114 376.5h1M766 377.5h2M1113.5 377v2M768 378.5h1M769 379.5h2M1112 379.5h1M771 380.5h2M1111 380.5h1M773 381.5h2M1110 381.5h1M775 382.5h2M1109.5 382v2M777 383.5h2M779 384.5h1M1108 384.5h1M780 385.5h1M1107 385.5h1M781 386.5h1M1106.5 386v2M782 387.5h1M783.5 388v2M1105.5 388v2M784 390.5h1M1104.5 390v2M785 391.5h1M971 391.5h5M786 392.5h1M969 392.5h2M976 392.5h4M1103 392.5h1M787 393.5h1M967 393.5h2M980 393.5h1M1102.5 393v2M788.5 394v2M965 394.5h2M981 394.5h1M963 395.5h2M982 395.5h1M1101.5 395v2M789.5 396v2M962 396.5h1M983.5 396v2M961 397.5h1M1100.5 397v2M790 398.5h1M960 398.5h1M984 398.5h1M791.5 399v2M959.5 399v2M985 399.5h1M1099 399.5h1M986 400.5h1M1098.5 400v2M792 401.5h1M958 401.5h1M987 401.5h1M793.5 402v2M957 402.5h1M988 402.5h1M1097.5 402v2M956 403.5h1M989.5 403v2M794.5 404v2M955 404.5h1M1096.5 404v2M954.5 405v2M990 405.5h1M795 406.5h1M991 406.5h1M1095.5 406v2M796.5 407v2M953.5 407v2M992 407.5h1M993.5 408v2M1094.5 408v2M797.5 409v2M952.5 409v2M994 410.5h1M1093.5 410v2M798.5 411v2M951.5 411v2M995.5 411v2M1092.5 412v2M799.5 413v2M950.5 413v2M996.5 413v2M1091.5 414v3M800.5 415v2M949.5 415v2M997.5 415v2M801.5 417v2M948.5 417v2M998.5 417v2M1090.5 417v2M802.5 419v2M947 419.5h1M999.5 419v2M1089.5 419v2M946 420.5h1M803.5 421v2M945 421.5h1M1000.5 421v2M1088.5 421v2M944 422.5h1M804.5 423v2M943.5 423v2M1001.5 423v2M1087.5 423v3M805.5 425v2M942 425.5h1M1002.5 425v2M941 426.5h1M1086.5 426v2M806.5 427v3M940 427.5h1M1003.5 427v3M939 428.5h1M1085.5 428v2M938 429.5h1M807.5 430v2M937 430.5h1M1004.5 430v2M1084.5 430v2M936 431.5h1M808.5 432v3M934 432.5h2M1005.5 432v3M1083.5 432v2M933 433.5h1M932 434.5h1M1082.5 434v2M809.5 435v2M931 435.5h1M1006.5 435v2M930.5 436v2M1081.5 436v2M810.5 437v2M1007.5 437v3M929 438.5h1M1080.5 438v2M811.5 439v2M928 439.5h1M927.5 440v2M1008.5 440v2M1079.5 440v2M812.5 441v2M926 442.5h1M1009.5 442v3M1078.5 442v2M813.5 443v2M925 443.5h1M924.5 444v2M1077.5 444v2M814.5 445v2M1010.5 445v2M923 446.5h1M1076.5 446v2M815 447.5h1M922 447.5h1M1011.5 447v3M816.5 448v2M920 448.5h2M1075.5 448v3M919 449.5h1M817.5 450v2M918 450.5h1M1012.5 450v3M916 451.5h2M1074.5 451v2M818.5 452v2M907 452.5h9M906 453.5h1M1013.5 453v2M1073.5 453v2M819 454.5h1M904 454.5h2M820 455.5h1M903 455.5h1M1014.5 455v3M1072.5 455v2M821.5 456v2M902 456.5h1M900 457.5h2M1071.5 457v2M822 458.5h1M899 458.5h1M1015.5 458v3M823 459.5h1M897 459.5h2M1070.5 459v2M824 460.5h1M895 460.5h2M825.5 461v2M893 461.5h2M1016.5 461v3M1069.5 461v2M891 462.5h2M826 463.5h1M889 463.5h2M1068.5 463v2M827 464.5h1M888 464.5h1M1017.5 464v2M828 465.5h1M886 465.5h2M1067.5 465v2M829.5 466v2M884 466.5h2M1018.5 466v3M880 467.5h4M1066.5 467v2M830 468.5h1M874 468.5h6M831 469.5h1M872 469.5h2M1019.5 469v2M1065.5 469v2M832 470.5h1M869 470.5h3M833.5 471v2M867 471.5h2M1020.5 471v2M1064 471.5h1M866 472.5h1M1063.5 472v2M834 473.5h1M865 473.5h1M1021 473.5h1M835 474.5h1M864 474.5h1M1022.5 474v2M1062 474.5h1M836 475.5h1M863.5 475v2M1061.5 475v2M837 476.5h1M1023 476.5h1M838 477.5h1M862 477.5h1M1024.5 477v2M1060.5 477v2M839 478.5h1M861 478.5h1M840 479.5h1M860 479.5h1M1025 479.5h1M1059 479.5h1M841 480.5h1M859 480.5h1M1026.5 480v2M1058.5 480v2M842 481.5h1M858 481.5h1M843 482.5h2M856 482.5h2M1027 482.5h1M1057.5 482v2M845 483.5h2M855 483.5h1M1028.5 483v2M847 484.5h2M854 484.5h1M1056 484.5h1M849 485.5h2M852 485.5h2M1029 485.5h1M1055.5 485v2M851 486.5h1M1030 486.5h1M1031.5 487v2M1054 487.5h1M1053.5 488v2M1032 489.5h1M1033 490.5h1M1052.5 490v2M1034.5 491v2M1050 492.5h2M1035 493.5h5M1046 493.5h4M1040 494.5h6" fill="none" stroke="#0000cd" stroke-width="1"/>
<rect x="721" y="311" width="459" height="6" fill="#f93737"/>
<rect x="720" y="400" width="459" height="5" fill="#99cc00"/>
<rect x="725" y="499" width="461" height="5" fill="#3995e5"/>
<polygon points="1129,26 1138.5,26 1133.7,30.8" fill="#c0c0c0" shape-rendering="auto"/>
</g>
<g fill="#c0c0c0"><rect x="3" y="586" width="1" height="19"/><rect x="11" y="588" width="1" height="17"/><rect x="19" y="589" width="1" height="16"/><rect x="27" y="594" width="1" height="11"/><rect x="35" y="596" width="1" height="9"/><rect x="43" y="603" width="1" height="2"/><rect x="51" y="600" width="1" height="5"/><rect x="59" y="598" width="1" height="7"/><rect x="67" y="597" width="1" height="8"/><rect x="75" y="598" width="1" height="7"/><rect x="83" y="589" width="1" height="16"/><rect x="91" y="580" width="1" height="25"/><rect x="99" y="576" width="1" height="29"/><rect x="107" y="574" width="1" height="31"/><rect x="115" y="574" width="1" height="31"/><rect x="123" y="578" width="1" height="27"/><rect x="131" y="586" width="1" height="19"/><rect x="139" y="597" width="1" height="8"/><rect x="147" y="604" width="1" height="1"/><rect x="155" y="604" width="1" height="8"/><rect x="163" y="604" width="1" height="17"/><rect x="171" y="604" width="1" height="19"/><rect x="179" y="604" width="1" height="22"/><rect x="187" y="604" width="1" height="23"/><rect x="195" y="604" width="1" height="20"/><rect x="203" y="604" width="1" height="16"/><rect x="211" y="604" width="1" height="15"/><rect x="219" y="604" width="1" height="10"/><rect x="227" y="604" width="1" height="6"/><rect x="235" y="604" width="1" height="9"/><rect x="243" y="604" width="1" height="9"/><rect x="251" y="604" width="1" height="6"/><rect x="259" y="604" width="1" height="1"/><rect x="267" y="602" width="1" height="3"/><rect x="275" y="603" width="1" height="2"/><rect x="283" y="604" width="1" height="3"/><rect x="291" y="604" width="1" height="10"/><rect x="299" y="604" width="1" height="12"/><rect x="307" y="604" width="1" height="15"/><rect x="315" y="604" width="1" height="17"/><rect x="323" y="604" width="1" height="24"/><rect x="331" y="604" width="1" height="30"/><rect x="339" y="604" width="1" height="32"/><rect x="347" y="604" width="1" height="34"/><rect x="355" y="604" width="1" height="32"/><rect x="363" y="604" width="1" height="31"/><rect x="371" y="604" width="1" height="28"/><rect x="379" y="604" width="1" height="27"/><rect x="387" y="604" width="1" height="24"/><rect x="395" y="604" width="1" height="21"/><rect x="403" y="604" width="1" height="18"/><rect x="411" y="604" width="1" height="16"/><rect x="419" y="604" width="1" height="9"/><rect x="427" y="604" width="1" height="7"/><rect x="435" y="604" width="1" height="8"/><rect x="443" y="604" width="1" height="8"/><rect x="451" y="604" width="1" height="5"/><rect x="459" y="604" width="1" height="1"/><rect x="467" y="604" width="1" height="2"/><rect x="475" y="604" width="1" height="3"/><rect x="483" y="604" width="1" height="3"/><rect x="491" y="604" width="1" height="1"/><rect x="499" y="604" width="1" height="1"/><rect x="507" y="604" width="1" height="2"/><rect x="515" y="604" width="1" height="1"/><rect x="523" y="604" width="1" height="1"/><rect x="531" y="604" width="1" height="1"/><rect x="539" y="604" width="1" height="1"/><rect x="547" y="602" width="1" height="3"/><rect x="555" y="600" width="1" height="5"/><rect x="563" y="595" width="1" height="10"/><rect x="571" y="595" width="1" height="10"/><rect x="579" y="590" width="1" height="15"/><rect x="587" y="587" width="1" height="18"/><rect x="595" y="584" width="1" height="21"/><rect x="603" y="583" width="1" height="22"/><rect x="611" y="582" width="1" height="23"/><rect x="619" y="584" width="1" height="21"/><rect x="627" y="585" width="1" height="20"/><rect x="635" y="588" width="1" height="17"/><rect x="643" y="594" width="1" height="11"/><rect x="651" y="604" width="1" height="2"/><rect x="659" y="604" width="1" height="12"/><rect x="667" y="604" width="1" height="17"/><rect x="675" y="604" width="1" height="21"/><rect x="683" y="604" width="1" height="22"/><rect x="691" y="604" width="1" height="24"/><rect x="699" y="604" width="1" height="28"/><rect x="707" y="604" width="1" height="33"/><rect x="715" y="604" width="1" height="34"/><rect x="723" y="604" width="1" height="39"/><rect x="731" y="604" width="1" height="40"/><rect x="739" y="604" width="1" height="40"/><rect x="747" y="604" width="1" height="40"/><rect x="755" y="604" width="1" height="40"/><rect x="763" y="604" width="1" height="40"/><rect x="771" y="604" width="1" height="40"/><rect x="779" y="604" width="1" height="42"/><rect x="787" y="604" width="1" height="46"/><rect x="795" y="604" width="1" height="48"/><rect x="803" y="604" width="1" height="54"/><rect x="811" y="604" width="1" height="58"/><rect x="819" y="604" width="1" height="59"/><rect x="827" y="604" width="1" height="58"/><rect x="835" y="604" width="1" height="58"/><rect x="843" y="604" width="1" height="59"/><rect x="851" y="604" width="1" height="56"/><rect x="859" y="604" width="1" height="52"/><rect x="867" y="604" width="1" height="48"/><rect x="875" y="604" width="1" height="44"/><rect x="883" y="604" width="1" height="40"/><rect x="891" y="604" width="1" height="38"/><rect x="899" y="604" width="1" height="37"/><rect x="907" y="604" width="1" height="32"/><rect x="915" y="604" width="1" height="29"/><rect x="923" y="604" width="1" height="22"/><rect x="931" y="604" width="1" height="15"/><rect x="939" y="604" width="1" height="11"/><rect x="947" y="604" width="1" height="7"/><rect x="955" y="604" width="1" height="1"/><rect x="963" y="602" width="1" height="3"/><rect x="971" y="603" width="1" height="2"/><rect x="979" y="603" width="1" height="2"/><rect x="987" y="604" width="1" height="2"/><rect x="995" y="604" width="1" height="4"/><rect x="1003" y="604" width="1" height="14"/><rect x="1011" y="604" width="1" height="19"/><rect x="1019" y="604" width="1" height="25"/><rect x="1027" y="604" width="1" height="26"/><rect x="1035" y="604" width="1" height="27"/><rect x="1043" y="604" width="1" height="24"/><rect x="1051" y="604" width="1" height="20"/><rect x="1059" y="604" width="1" height="15"/><rect x="1067" y="604" width="1" height="9"/><rect x="1075" y="604" width="1" height="5"/><rect x="1083" y="604" width="1" height="1"/><rect x="1091" y="598" width="1" height="7"/><rect x="1099" y="592" width="1" height="13"/><rect x="1107" y="586" width="1" height="19"/><rect x="1115" y="584" width="1" height="21"/></g>
<path d="M129 582.5h3M135 582.5h3M141 582.5h3M123 583.5h3M147 583.5h2M149 584.5h1M119 585.5h1M153 585.5h1M117 586.5h2M154 586.5h2M640 586.5h2M645 586.5h1M627 587.5h3M633 587.5h3M639 587.5h1M646 587.5h2M21 588.5h3M27 588.5h3M33 588.5h3M39 588.5h3M45 588.5h1M111 588.5h3M159 588.5h2M622 588.5h2M651 588.5h2M15 589.5h3M46 589.5h2M107 589.5h1M161 589.5h1M621 589.5h1M653 589.5h1M11 590.5h1M51 590.5h3M105 590.5h2M615 590.5h3M657 590.5h1M9 591.5h2M57 591.5h1M165 591.5h1M610 591.5h2M658 591.5h2M58 592.5h2M101 592.5h1M166 592.5h1M609 592.5h1M5 593.5h1M63 593.5h3M99 593.5h2M167 593.5h1M605 593.5h1M663 593.5h2M3 594.5h2M69 594.5h3M88 594.5h2M93 594.5h3M603 594.5h2M665 594.5h1M75 595.5h3M81 595.5h3M87 595.5h1M598 595.5h2M171 596.5h1M597 596.5h1M669 596.5h1M172 597.5h2M591 597.5h3M670 597.5h2M586 598.5h2M585 599.5h1M177 600.5h1M579 600.5h3M675 600.5h1M178 601.5h1M574 601.5h2M676 601.5h2M179 602.5h1M568 602.5h2M573 602.5h1M561 603.5h3M567 603.5h1M1115 603.5h1M183 604.5h1M555 604.5h3M681 604.5h2M1113 604.5h2M184 605.5h1M520 605.5h2M525 605.5h3M531 605.5h3M537 605.5h3M543 605.5h3M549 605.5h3M683 605.5h1M185 606.5h1M513 606.5h3M519 606.5h1M496 607.5h2M501 607.5h3M507 607.5h3M687 607.5h1M1108 607.5h2M189 608.5h1M291 608.5h3M489 608.5h3M495 608.5h1M688 608.5h1M994 608.5h2M999 608.5h3M1005 608.5h3M1107 608.5h1M190 609.5h1M280 609.5h2M285 609.5h3M297 609.5h3M303 609.5h1M483 609.5h3M689 609.5h1M993 609.5h1M1011 609.5h3M191 610.5h1M274 610.5h2M279 610.5h1M304 610.5h2M309 610.5h3M477 610.5h3M987 610.5h3M1017 610.5h1M273 611.5h1M315 611.5h3M471 611.5h3M693 611.5h1M1018 611.5h2M1102 611.5h2M269 612.5h1M321 612.5h1M466 612.5h2M694 612.5h2M981 612.5h3M1023 612.5h3M1101 612.5h1M195 613.5h2M267 613.5h2M322 613.5h2M465 613.5h1M197 614.5h1M262 614.5h2M327 614.5h1M459 614.5h3M976 614.5h2M1029 614.5h2M1097 614.5h1M261 615.5h1M328 615.5h2M699 615.5h1M975 615.5h1M1031 615.5h1M1095 615.5h2M201 616.5h2M255 616.5h3M453 616.5h3M700 616.5h2M971 616.5h1M203 617.5h1M250 617.5h2M333 617.5h2M969 617.5h2M1035 617.5h3M1091 617.5h1M207 618.5h1M249 618.5h1M335 618.5h1M447 618.5h3M1041 618.5h1M1089 618.5h2M208 619.5h2M243 619.5h3M442 619.5h2M705 619.5h2M1042 619.5h2M213 620.5h3M238 620.5h2M339 620.5h2M441 620.5h1M707 620.5h1M964 620.5h2M1047 620.5h1M1085 620.5h1M219 621.5h3M225 621.5h3M231 621.5h3M237 621.5h1M341 621.5h1M435 621.5h3M963 621.5h1M1048 621.5h2M1083 621.5h2M711 622.5h1M1053 622.5h3M1078 622.5h2M345 623.5h2M429 623.5h3M712 623.5h1M959 623.5h1M1059 623.5h3M1072 623.5h2M1077 623.5h1M347 624.5h1M713 624.5h1M957 624.5h2M1065 624.5h3M1071 624.5h1M351 625.5h1M424 625.5h2M352 626.5h2M423 626.5h1M717 626.5h2M953 626.5h1M357 627.5h1M418 627.5h2M719 627.5h1M951 627.5h2M358 628.5h2M417 628.5h1M363 629.5h3M413 629.5h1M723 629.5h2M947 629.5h1M369 630.5h1M411 630.5h2M725 630.5h1M945 630.5h2M370 631.5h2M375 631.5h1M405 631.5h3M729 631.5h1M376 632.5h2M381 632.5h3M399 632.5h3M730 632.5h2M941 632.5h1M387 633.5h3M393 633.5h3M735 633.5h1M939 633.5h2M736 634.5h2M741 635.5h1M742 636.5h2M934 636.5h2M747 637.5h3M933 637.5h1M753 638.5h1M754 639.5h2M929 639.5h1M759 640.5h3M927 640.5h2M765 641.5h3M771 642.5h3M922 642.5h2M777 643.5h3M921 643.5h1M783 644.5h3M917 644.5h1M789 645.5h3M915 645.5h2M795 646.5h3M801 647.5h3M911 647.5h1M807 648.5h3M909 648.5h2M813 649.5h1M814 650.5h2M904 650.5h2M819 651.5h3M903 651.5h1M825 652.5h1M898 652.5h2M826 653.5h2M897 653.5h1M831 654.5h3M891 654.5h3M837 656.5h3M885 656.5h3M843 658.5h3M879 658.5h3M849 659.5h3M855 659.5h1M873 659.5h3M856 660.5h2M861 660.5h3M867 660.5h3" fill="none" stroke="#ff0000" stroke-width="1"/>
<g fill="#c0c0c0">
<path d="M3 711.5H1418M3 762.5H1418" stroke="#c0c0c0" stroke-width="1" stroke-dasharray="3 3" fill="none"/>
</g>
<path d="M1098 718.5h11M90 719.5h3M1096 719.5h2M1109 719.5h3M86 720.5h4M93 720.5h2M1093 720.5h3M1112 720.5h2M83 721.5h3M95 721.5h2M1091 721.5h2M1114 721.5h2M82.5 722v2M97 722.5h2M1089 722.5h2M99 723.5h5M563 723.5h1M1087 723.5h2M81.5 724v2M104 724.5h4M562 724.5h1M564 724.5h1M1085 724.5h2M108 725.5h1M561 725.5h1M565.5 725v2M579 725.5h19M610 725.5h2M955 725.5h2M1083 725.5h2M80.5 726v2M109 726.5h1M123.5 726v2M560 726.5h1M578 726.5h1M598 726.5h4M606 726.5h4M612 726.5h1M954 726.5h1M957 726.5h3M1081 726.5h2M110 727.5h2M121 727.5h2M559 727.5h1M566 727.5h1M577 727.5h1M602 727.5h4M613 727.5h1M931 727.5h1M953 727.5h1M960 727.5h2M1080 727.5h1M79 728.5h1M112 728.5h1M120 728.5h1M124.5 728v2M267 728.5h1M558 728.5h1M567 728.5h1M576 728.5h1M614 728.5h2M929 728.5h2M932 728.5h2M952 728.5h1M962 728.5h2M1078 728.5h2M78.5 729v2M113 729.5h1M118 729.5h2M265 729.5h2M268 729.5h1M419 729.5h1M458 729.5h2M557 729.5h1M568 729.5h1M575 729.5h1M616 729.5h1M928 729.5h1M934 729.5h1M950 729.5h2M964 729.5h1M1067 729.5h5M1076 729.5h2M114 730.5h1M116 730.5h2M125.5 730v3M263 730.5h2M269 730.5h1M418 730.5h1M420 730.5h2M456 730.5h2M460.5 730v2M556 730.5h1M569.5 730v2M574 730.5h1M617 730.5h1M926 730.5h2M935 730.5h1M949 730.5h1M965 730.5h1M1065 730.5h2M1072 730.5h4M51 731.5h10M77.5 731v2M115 731.5h1M261 731.5h2M270 731.5h1M417 731.5h1M422 731.5h1M453 731.5h3M552 731.5h4M573 731.5h1M618 731.5h1M924 731.5h2M936 731.5h2M948 731.5h1M966 731.5h1M1063 731.5h2M50.5 732v2M61 732.5h3M219 732.5h9M258 732.5h3M271 732.5h1M416 732.5h1M423 732.5h1M451 732.5h2M461 732.5h1M547 732.5h5M570 732.5h1M572 732.5h1M619 732.5h10M923 732.5h1M938 732.5h1M944 732.5h4M967.5 732v2M1061 732.5h2M3 733.5h5M64 733.5h2M76.5 733v2M126.5 733v2M218 733.5h1M228.5 733v2M254 733.5h4M272 733.5h1M415.5 733v2M424 733.5h2M450 733.5h1M462 733.5h1M515 733.5h3M545 733.5h2M571 733.5h1M629 733.5h2M922 733.5h1M939 733.5h5M1059 733.5h2M8 734.5h8M49.5 734v2M66 734.5h6M217 734.5h1M251 734.5h3M273 734.5h1M426 734.5h1M449 734.5h1M463.5 734v2M490 734.5h10M514.5 734v2M518 734.5h4M543 734.5h2M631 734.5h2M921.5 734v2M968 734.5h1M1057 734.5h2M16 735.5h4M72 735.5h4M127.5 735v3M216 735.5h1M229 735.5h1M249 735.5h2M274 735.5h1M414 735.5h1M427 735.5h1M448 735.5h1M486 735.5h4M500.5 735v2M522 735.5h6M541 735.5h2M633 735.5h2M969 735.5h1M1055 735.5h2M20 736.5h1M48.5 736v2M200 736.5h5M214 736.5h2M230 736.5h1M247 736.5h2M275 736.5h1M402 736.5h4M413 736.5h1M428 736.5h2M447 736.5h1M464 736.5h1M483 736.5h3M513 736.5h1M528 736.5h13M635 736.5h1M920 736.5h1M970 736.5h1M1053 736.5h2M21 737.5h1M35 737.5h1M195 737.5h5M205 737.5h3M213 737.5h1M231.5 737v2M245 737.5h2M276 737.5h1M400 737.5h2M406 737.5h4M412 737.5h1M430 737.5h2M446 737.5h1M465 737.5h1M481 737.5h2M501 737.5h1M512.5 737v2M636 737.5h1M919 737.5h1M971 737.5h9M1048 737.5h5M22 738.5h2M33 738.5h2M36 738.5h1M47.5 738v2M128.5 738v2M194 738.5h1M208 738.5h2M212 738.5h1M243 738.5h2M277 738.5h1M397 738.5h3M410 738.5h2M432 738.5h1M445 738.5h1M466.5 738v2M479 738.5h2M502 738.5h1M637 738.5h1M918 738.5h1M980 738.5h1M1043 738.5h5M24 739.5h1M32 739.5h1M37 739.5h1M192 739.5h2M210 739.5h2M232 739.5h1M241 739.5h2M278 739.5h2M371 739.5h2M387 739.5h10M433 739.5h2M444 739.5h1M477 739.5h2M503.5 739v2M511 739.5h1M638 739.5h1M917.5 739v2M981 739.5h1M1042 739.5h1M25 740.5h1M30 740.5h2M38 740.5h1M46.5 740v2M129.5 740v3M191 740.5h1M233 740.5h1M240 740.5h1M280 740.5h1M369 740.5h2M373 740.5h2M385 740.5h2M435 740.5h9M467 740.5h10M510.5 740v2M639 740.5h1M907 740.5h3M982 740.5h2M1041 740.5h1M26 741.5h1M28 741.5h2M39.5 741v2M190 741.5h1M234.5 741v2M238 741.5h2M281 741.5h1M368 741.5h1M375 741.5h2M383 741.5h2M504 741.5h1M640 741.5h1M906 741.5h1M910 741.5h4M916 741.5h1M984 741.5h1M1040 741.5h1M27 742.5h1M45.5 742v2M188 742.5h2M236 742.5h2M282 742.5h1M366 742.5h2M377 742.5h2M381 742.5h2M505 742.5h1M509 742.5h1M641 742.5h1M905.5 742v2M914 742.5h2M985 742.5h1M1039.5 742v2M40 743.5h1M130.5 743v2M186 743.5h2M235 743.5h1M283 743.5h1M299 743.5h5M355 743.5h5M364 743.5h2M379 743.5h2M506.5 743v2M508.5 743v2M642 743.5h1M986 743.5h1M41 744.5h1M44.5 744v2M171 744.5h5M182 744.5h4M284 744.5h2M297 744.5h2M304 744.5h8M354 744.5h1M360 744.5h4M643 744.5h1M859 744.5h5M904 744.5h1M987 744.5h2M1038 744.5h1M42 745.5h1M131.5 745v2M170 745.5h1M176 745.5h6M286 745.5h2M296 745.5h1M312 745.5h4M353 745.5h1M507 745.5h1M644.5 745v2M858 745.5h1M864 745.5h6M882 745.5h4M903 745.5h1M989 745.5h2M1037 745.5h1M43 746.5h1M132 746.5h2M154 746.5h2M169 746.5h1M288 746.5h1M294 746.5h2M316 746.5h1M352 746.5h1M857 746.5h1M870 746.5h4M878 746.5h4M886 746.5h4M902 746.5h1M991 746.5h2M1036 746.5h1M134 747.5h4M152 747.5h2M156 747.5h2M168 747.5h1M289 747.5h2M292 747.5h2M317 747.5h1M350 747.5h2M645.5 747v2M682 747.5h6M856 747.5h1M874 747.5h4M890 747.5h3M901.5 747v2M993 747.5h2M1032 747.5h4M138 748.5h6M149 748.5h3M158 748.5h2M166 748.5h2M291 748.5h1M318 748.5h1M339 748.5h3M349 748.5h1M680 748.5h2M688 748.5h4M855.5 748v2M893 748.5h3M995 748.5h1M1027 748.5h5M144 749.5h5M160 749.5h1M165 749.5h1M319 749.5h1M338 749.5h1M342 749.5h4M348 749.5h1M646.5 749v2M677 749.5h3M692 749.5h2M739 749.5h3M762 749.5h3M896 749.5h2M900 749.5h1M996 749.5h1M1026 749.5h1M161 750.5h2M164 750.5h1M320 750.5h1M336 750.5h2M346 750.5h2M672 750.5h5M694 750.5h1M737 750.5h2M742 750.5h4M760 750.5h2M765 750.5h3M854 750.5h1M898 750.5h2M997 750.5h1M1025 750.5h1M163 751.5h1M321 751.5h1M335 751.5h1M647 751.5h1M667 751.5h5M695 751.5h1M715 751.5h1M735 751.5h2M746 751.5h6M757 751.5h3M768 751.5h2M853 751.5h1M998 751.5h1M1024 751.5h1M322 752.5h1M334 752.5h1M648.5 752v2M666 752.5h1M696 752.5h2M714 752.5h1M716 752.5h1M733 752.5h2M752 752.5h5M770 752.5h2M852 752.5h1M999 752.5h1M1011 752.5h1M1023.5 752v2M323 753.5h5M332 753.5h2M664 753.5h2M698 753.5h1M713 753.5h1M717 753.5h1M731 753.5h2M772 753.5h2M827 753.5h1M851 753.5h1M1000 753.5h1M1009 753.5h2M1012 753.5h2M328 754.5h4M649.5 754v2M663 754.5h1M699 754.5h2M712 754.5h1M718 754.5h2M729 754.5h2M774 754.5h1M825 754.5h2M828 754.5h2M850 754.5h1M1001 754.5h1M1007 754.5h2M1014 754.5h2M1022 754.5h1M662 755.5h1M701 755.5h2M710 755.5h2M720 755.5h1M728 755.5h1M775 755.5h1M824 755.5h1M830 755.5h2M848 755.5h2M1002 755.5h1M1005 755.5h2M1016 755.5h1M1021 755.5h1M650.5 756v2M660 756.5h2M703 756.5h2M709 756.5h1M721 756.5h1M726 756.5h2M776 756.5h2M822 756.5h2M832 756.5h1M847 756.5h1M1003 756.5h2M1017 756.5h2M1020 756.5h1M656 757.5h4M705 757.5h2M708 757.5h1M722 757.5h1M724 757.5h2M778 757.5h1M820 757.5h2M833 757.5h2M846 757.5h1M1019 757.5h1M651 758.5h5M707 758.5h1M723 758.5h1M779 758.5h3M819 758.5h1M835 758.5h5M844 758.5h2M782 759.5h4M818.5 759v2M840 759.5h4M786 760.5h6M792 761.5h4M817 761.5h1M796 762.5h2M816 762.5h1M798 763.5h2M815.5 763v2M800 764.5h1M801 765.5h2M814 765.5h1M803 766.5h2M813 766.5h1M805 767.5h3M812.5 767v2M808 768.5h2M810 769.5h2" fill="none" stroke="#1e90ff" stroke-width="1"/>
<g fill="#000">
<rect x="2" y="25" width="1417" height="1"/>
<rect x="2" y="25" width="1" height="777"/>
<rect x="1418" y="25" width="1" height="777"/>
<rect x="2" y="564" width="1417" height="1"/>
<rect x="2" y="566" width="1417" height="1"/>
<rect x="2" y="669" width="1417" height="1"/>
<rect x="2" y="671" width="1417" height="1"/>
<rect x="2" y="801" width="1417" height="1"/>
<rect x="2" y="565" width="1" height="1" fill="#fff"/>
<rect x="2" y="670" width="1" height="1" fill="#fff"/>
<rect x="1419" y="33" width="2" height="1"/><rect x="1419" y="66" width="2" height="1"/><rect x="1419" y="99" width="2" height="1"/><rect x="1419" y="132" width="2" height="1"/><rect x="1419" y="165" width="2" height="1"/><rect x="1419" y="198" width="2" height="1"/><rect x="1419" y="231" width="2" height="1"/><rect x="1419" y="264" width="2" height="1"/><rect x="1419" y="297" width="2" height="1"/><rect x="1419" y="330" width="2" height="1"/><rect x="1419" y="363" width="2" height="1"/><rect x="1419" y="396" width="2" height="1"/><rect x="1419" y="429" width="2" height="1"/><rect x="1419" y="462" width="2" height="1"/><rect x="1419" y="495" width="2" height="1"/><rect x="1419" y="529" width="2" height="1"/><rect x="1419" y="562" width="2" height="1"/><rect x="1419" y="604" width="2" height="1"/><rect x="1419" y="566" width="2" height="1"/><rect x="1419" y="669" width="2" height="1"/><rect x="1419" y="671" width="2" height="1"/><rect x="1419" y="801" width="2" height="1"/><rect x="3" y="802" width="1" height="3"/><rect x="67" y="802" width="1" height="3"/><rect x="131" y="802" width="1" height="3"/><rect x="195" y="802" width="1" height="3"/><rect x="259" y="802" width="1" height="3"/><rect x="323" y="802" width="1" height="3"/><rect x="387" y="802" width="1" height="3"/><rect x="451" y="802" width="1" height="3"/><rect x="515" y="802" width="1" height="3"/><rect x="579" y="802" width="1" height="3"/><rect x="643" y="802" width="1" height="3"/><rect x="707" y="802" width="1" height="3"/><rect x="771" y="802" width="1" height="3"/><rect x="835" y="802" width="1" height="3"/><rect x="899" y="802" width="1" height="3"/><rect x="963" y="802" width="1" height="3"/><rect x="1027" y="802" width="1" height="3"/><rect x="1091" y="802" width="1" height="3"/>
<polygon points="6.2,36 13,36 9.6,32.2" shape-rendering="auto"/>
</g>
<!-- tab bar -->
<rect x="0" y="822" width="1458" height="1" fill="#e3e3e3"/>
<rect x="0" y="823" width="1458" height="22" fill="#f0f0f0"/>
<rect x="0" y="824" width="1458" height="1" fill="#000"/>
<rect x="112" y="824" width="108" height="19" fill="#000"/>
<rect x="113" y="824" width="106" height="18" fill="#fff"/>
<polygon points="1437,830 1437,836.6 1433.4,833.3" fill="#808080" shape-rendering="auto"/>
<polygon points="1452.4,830 1452.4,836.6 1456,833.3" fill="#808080" shape-rendering="auto"/>
</svg>
<div class="ax" style="top:27.2px">0.73115</div><div class="ax" style="top:60.2px">0.72810</div><div class="ax" style="top:93.2px">0.72505</div><div class="ax" style="top:126.3px">0.72200</div><div class="ax" style="top:159.3px">0.71890</div><div class="ax" style="top:192.3px">0.71585</div><div class="ax" style="top:225.3px">0.71280</div><div class="ax" style="top:258.3px">0.70970</div><div class="ax" style="top:291.4px">0.70665</div><div class="ax" style="top:324.4px">0.70360</div><div class="ax" style="top:357.4px">0.70050</div><div class="ax" style="top:390.4px">0.69745</div><div class="ax" style="top:423.4px">0.69440</div><div class="ax" style="top:456.5px">0.69130</div><div class="ax" style="top:489.5px">0.68825</div><div class="ax" style="top:522.5px">0.68520</div><div class="ax" style="top:555.5px">0.68210</div><div class="ax2" style="top:568.0px">0.002984</div><div class="ax2" style="top:598.6px">0.00</div><div class="ax2" style="top:657.0px">-0.00525</div><div class="ax2" style="top:672.0px">100</div><div class="ax2" style="top:705.3px">70</div><div class="ax2" style="top:756.4px">30</div><div class="ax2" style="top:788.5px">0</div>
<div class="dt" style="left:2.5px">18 Jan 2019</div><div class="dt" style="left:66.5px">28 Jan 2019</div><div class="dt" style="left:130.5px">6 Feb 2019</div><div class="dt" style="left:194.5px">15 Feb 2019</div><div class="dt" style="left:258.5px">25 Feb 2019</div><div class="dt" style="left:322.5px">6 Mar 2019</div><div class="dt" style="left:386.5px">15 Mar 2019</div><div class="dt" style="left:450.5px">25 Mar 2019</div><div class="dt" style="left:514.5px">3 Apr 2019</div><div class="dt" style="left:578.5px">12 Apr 2019</div><div class="dt" style="left:642.5px">23 Apr 2019</div><div class="dt" style="left:706.5px">2 May 2019</div><div class="dt" style="left:770.5px">12 May 2019</div><div class="dt" style="left:834.5px">21 May 2019</div><div class="dt" style="left:898.5px">30 May 2019</div><div class="dt" style="left:962.5px">9 Jun 2019</div><div class="dt" style="left:1026.5px">18 Jun 2019</div><div class="dt" style="left:1090.5px">27 Jun 2019</div>
<div class="tab" style="left:15.5px;letter-spacing:-0.05px">EURUSD-,Daily</div><div class="tab act" style="left:122.5px;letter-spacing:0.07px">AUDUSD-,Daily</div><div class="tab" style="left:232.5px;letter-spacing:-0.12px">USDCHF-,Daily</div><div class="tab" style="left:338.75px;letter-spacing:0.12px">USDCAD-,Daily</div><div class="tab" style="left:448.25px;letter-spacing:0.17px">USDCNH-,Daily</div><div class="tab" style="left:558.75px;letter-spacing:0.02px">EURCHF-,Weekly</div><div class="tab" style="left:678.75px;letter-spacing:0.22px">XAUUSD-,M5</div><div class="tab" style="left:779.25px;letter-spacing:-0.14px">GBPUSD-,H1</div><div class="sep" style="left:327.5px"></div><div class="sep" style="left:436.2px"></div><div class="sep" style="left:547.8px"></div><div class="sep" style="left:667.8px"></div><div class="sep" style="left:767.8px"></div><div class="sep" style="left:864.0px"></div>
<div id="plab"><span>0.70096</span></div>
<div id="hdr">AUDUSD-,Daily<span style="font-size:9.25px;margin-left:7.3px">0.70217 0.70228 0.70062 0.70096</span></div>
<div class="ind" style="top:569.6px">MACD(12,26,9) 0.001735 0.000101</div>
<div class="ind" style="top:674.6px">RSI(14) 61.4343</div>

<div id="oct">
 <div style="left:-2px;top:-2px;width:223px;height:68px;background:#fff"></div>
 <div style="left:0;top:0;width:52px;height:24px;background:linear-gradient(#5858fc,#3d3de6);box-shadow:inset 1px 1px 0 #2a2ad0,inset -1px 0 0 #2a2ad0"></div>
 <div style="left:167px;top:0;width:52px;height:24px;background:linear-gradient(#5858fc,#3d3de6);box-shadow:inset 1px 1px 0 #2a2ad0,inset -1px 0 0 #2a2ad0"></div>
 <div style="left:0;top:24px;width:109px;height:40px;background:linear-gradient(#3a3ae2,#1c1cc8 50%,#0000a6)"></div>
 <div style="left:111px;top:24px;width:108px;height:40px;background:linear-gradient(#3a3ae2,#1c1cc8 50%,#0000a6)"></div>
 <div style="left:4px;top:23px;width:44px;height:1px;background:#1a1ab0"></div>
 <div style="left:4px;top:24px;width:44px;height:1px;background:#7c7cf2"></div>
 <div style="left:171px;top:23px;width:44px;height:1px;background:#1a1ab0"></div>
 <div style="left:171px;top:24px;width:44px;height:1px;background:#7c7cf2"></div>
 <div style="left:54px;top:0px;width:111px;height:21px;background:#fff;border:1px solid #b8b8b8;box-sizing:border-box"></div>
 <div style="left:55px;top:1px;width:20px;height:19px;background:linear-gradient(#f4f4f4,#cfcfcf);border:1px solid #c4c4c4;box-sizing:border-box"></div>
 <div style="left:144px;top:1px;width:20px;height:19px;background:linear-gradient(#f4f4f4,#cfcfcf);border:1px solid #c4c4c4;box-sizing:border-box"></div>
 <div style="left:62px;top:9px;width:0;height:0;border-left:3px solid transparent;border-right:3px solid transparent;border-top:3.5px solid #4a5aa8"></div>
 <div style="left:151px;top:8.5px;width:0;height:0;border-left:3px solid transparent;border-right:3px solid transparent;border-bottom:3.5px solid #4a5aa8"></div>
 <div class="big" style="left:11.2px;top:4.6px;font-size:11px;letter-spacing:0.25px;line-height:14px">SELL</div>
 <div class="big" style="left:179.8px;top:4.6px;font-size:11px;letter-spacing:0.5px;line-height:14px">BUY</div>
 <div style="left:80px;top:4px;width:60px;text-align:right;font-size:12px;line-height:14px;color:#000">1.00</div>
 <div class="big" style="left:19.6px;top:43.6px;font-size:12.5px;line-height:14px;font-weight:bold">0.70</div>
 <div class="big" style="left:47.2px;top:24px;font-size:33.5px;line-height:38px;letter-spacing:-2px">09</div>
 <div class="big" style="left:87px;top:28.2px;font-size:12.5px;line-height:14px;font-weight:bold">6</div>
 <div class="big" style="left:129.6px;top:43.6px;font-size:12.5px;line-height:14px;font-weight:bold">0.70</div>
 <div class="big" style="left:157.2px;top:24px;font-size:33.5px;line-height:38px;letter-spacing:-0.6px">11</div>
 <div class="big" style="left:197.6px;top:28.2px;font-size:12.5px;line-height:14px;font-weight:bold">4</div>
</div>
</body></html>
